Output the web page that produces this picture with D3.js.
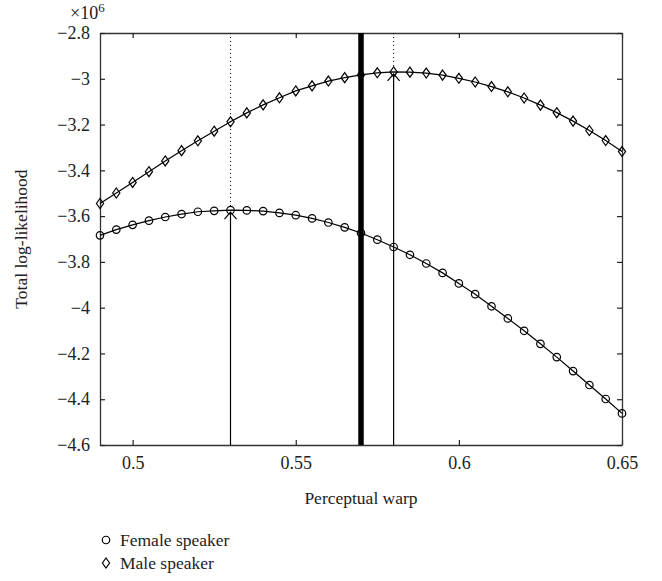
<!DOCTYPE html>
<html>
<head>
<meta charset="utf-8">
<script src="https://d3js.org/d3.v7.min.js"></script>
<style>
  body { margin: 0; background: #fff; }
  svg text { font-family: "Liberation Serif", "DejaVu Serif", serif; fill: #222; }
</style>
</head>
<body>
<svg width="662" height="581"></svg>
<script>
// perceptual warp values (x)
var warp = [0.49, 0.495, 0.50, 0.505, 0.51, 0.515, 0.52, 0.525, 0.53, 0.535, 0.54,
            0.545, 0.55, 0.555, 0.56, 0.565, 0.57, 0.575, 0.58, 0.585, 0.59, 0.595,
            0.60, 0.605, 0.61, 0.615, 0.62, 0.625, 0.63, 0.635, 0.64, 0.645, 0.65];

// total log-likelihood, in units of 10^6
var female = [-3.684, -3.659, -3.638, -3.620, -3.604, -3.591, -3.581, -3.577, -3.574, -3.575, -3.578,
              -3.586, -3.596, -3.610, -3.628, -3.649, -3.674, -3.703, -3.735, -3.769, -3.807, -3.848,
              -3.894, -3.941, -3.994, -4.047, -4.101, -4.158, -4.216, -4.277, -4.338, -4.399, -4.462];

var male = [-3.545, -3.499, -3.453, -3.406, -3.359, -3.314, -3.271, -3.229, -3.188, -3.149, -3.114,
            -3.083, -3.053, -3.031, -3.010, -2.995, -2.983, -2.974, -2.970, -2.971, -2.975, -2.984,
            -2.998, -3.014, -3.034, -3.057, -3.084, -3.115, -3.148, -3.185, -3.226, -3.270, -3.318];

var xTicks = [0.5, 0.55, 0.6, 0.65];
var yTicks = [-2.8, -3, -3.2, -3.4, -3.6, -3.8, -4, -4.2, -4.4, -4.6];

var thickWarp = 0.57;          // heavy vertical line
var femalePeak = 0.53;         // arrow + dotted line
var malePeak = 0.58;

var svg = d3.select("svg");
var mLeft = 100, mRight = 622, mTop = 33, mBottom = 445;

var x = d3.scaleLinear().domain([0.49, 0.65]).range([mLeft, mRight]);
var y = d3.scaleLinear().domain([-4.6, -2.8]).range([mBottom, mTop]);

var fmt = function(d) { return String(+d.toFixed(2)).replace("-", "\u2212"); };

// axes (ticks pointing inward on all four sides)
svg.append("g").attr("transform", "translate(0," + mBottom + ")")
    .call(d3.axisBottom(x).tickValues(xTicks).tickFormat(fmt).tickSizeInner(-5).tickSizeOuter(0).tickPadding(11))
    .call(styleAxis);
svg.append("g").attr("transform", "translate(0," + mTop + ")")
    .call(d3.axisTop(x).tickValues(xTicks).tickFormat("").tickSizeInner(-5).tickSizeOuter(0))
    .call(styleAxis);
svg.append("g").attr("transform", "translate(" + mLeft + ",0)")
    .call(d3.axisLeft(y).tickValues(yTicks).tickFormat(fmt).tickSizeInner(-5).tickSizeOuter(0).tickPadding(10))
    .call(styleAxis);
svg.append("g").attr("transform", "translate(" + mRight + ",0)")
    .call(d3.axisRight(y).tickValues(yTicks).tickFormat("").tickSizeInner(-5).tickSizeOuter(0))
    .call(styleAxis);

function styleAxis(g) {
  g.attr("font-size", null).attr("font-family", null);
  g.select(".domain").attr("stroke", "#333").attr("stroke-width", 1.3);
  g.selectAll(".tick line").attr("stroke", "#222").attr("stroke-width", 1.2);
  g.selectAll(".tick text").style("font-size", "18px").attr("fill", "#222");
}

// exponent label
var expo = svg.append("text").attr("x", 70).attr("y", 19).style("font-size", "18px");
expo.append("tspan").text("\u00d710");
expo.append("tspan").attr("dy", -7).style("font-size", "13px").text("6");

// axis titles
svg.append("text").attr("x", (mLeft + mRight) / 2).attr("y", 504)
    .attr("text-anchor", "middle").style("font-size", "17.5px").text("Perceptual warp");
svg.append("text").attr("transform", "translate(27," + (mTop + mBottom) / 2 + ") rotate(-90)")
    .attr("text-anchor", "middle").style("font-size", "17.5px").text("Total log-likelihood");

// heavy line at chosen warp
svg.append("line")
    .attr("x1", x(thickWarp)).attr("x2", x(thickWarp))
    .attr("y1", mTop).attr("y2", mBottom)
    .attr("stroke", "#000").attr("stroke-width", 5.5);

// dotted guide from top and arrow from bottom to each peak
[[femalePeak, female], [malePeak, male]].forEach(function(p) {
  var i = warp.indexOf(p[0]);
  var px = x(p[0]), py = y(p[1][i]);
  svg.append("line")
      .attr("x1", px).attr("x2", px).attr("y1", mTop).attr("y2", py - 4)
      .attr("stroke", "#000").attr("stroke-width", 1).attr("stroke-dasharray", "1,3");
  svg.append("line")
      .attr("x1", px).attr("x2", px).attr("y1", mBottom).attr("y2", py + 2)
      .attr("stroke", "#000").attr("stroke-width", 1.2);
  svg.append("path")
      .attr("d", "M" + (px - 6) + "," + (py + 9) + "L" + px + "," + (py + 2) + "L" + (px + 6) + "," + (py + 9))
      .attr("fill", "none").attr("stroke", "#000").attr("stroke-width", 1.2);
});

var line = d3.line().x(function(d, i) { return x(warp[i]); }).y(function(d) { return y(d); });

svg.append("path").datum(female).attr("d", line)
    .attr("fill", "none").attr("stroke", "#000").attr("stroke-width", 1.2);
svg.append("path").datum(male).attr("d", line)
    .attr("fill", "none").attr("stroke", "#000").attr("stroke-width", 1.2);

var circleSym = d3.symbol().type(d3.symbolCircle).size(44);
var diamond = "M0,-5L3.6,0L0,5L-3.6,0Z";

svg.append("g").selectAll("path").data(female).enter().append("path")
    .attr("transform", function(d, i) { return "translate(" + x(warp[i]) + "," + y(d) + ")"; })
    .attr("d", circleSym)
    .attr("fill", "none").attr("stroke", "#000").attr("stroke-width", 1.2);

svg.append("g").selectAll("path").data(male).enter().append("path")
    .attr("transform", function(d, i) { return "translate(" + x(warp[i]) + "," + y(d) + ")"; })
    .attr("d", diamond)
    .attr("fill", "none").attr("stroke", "#000").attr("stroke-width", 1.2);

// legend
var legend = svg.append("g");
legend.append("path").attr("transform", "translate(106,540)").attr("d", circleSym)
    .attr("fill", "none").attr("stroke", "#000").attr("stroke-width", 1.2);
legend.append("text").attr("x", 120).attr("y", 546).style("font-size", "17.5px").text("Female speaker");
legend.append("path").attr("transform", "translate(106,563)").attr("d", diamond)
    .attr("fill", "none").attr("stroke", "#000").attr("stroke-width", 1.2);
legend.append("text").attr("x", 120).attr("y", 569).style("font-size", "17.5px").text("Male speaker");
</script>
</body>
</html>
